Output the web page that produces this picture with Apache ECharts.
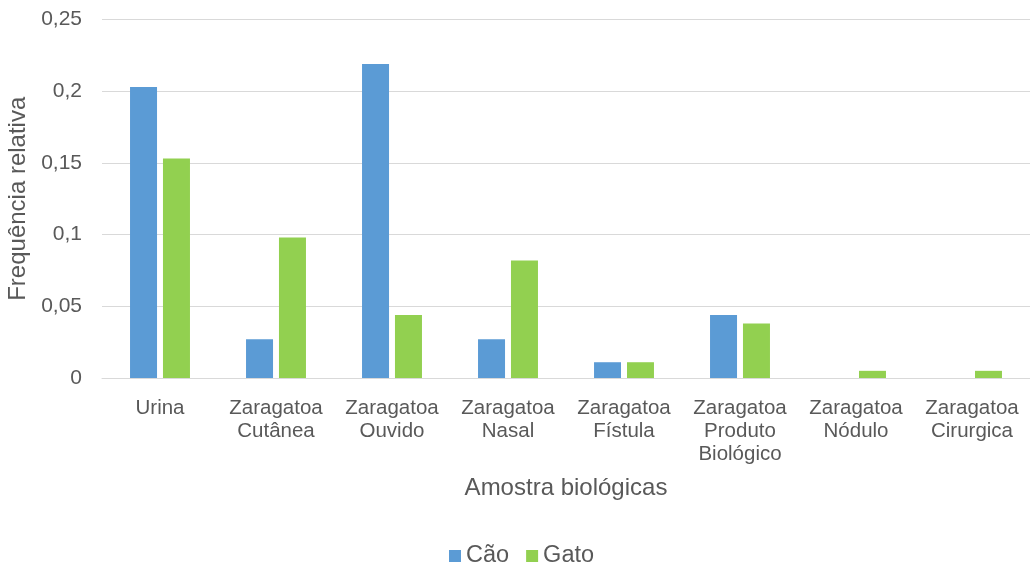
<!DOCTYPE html>
<html>
<head>
<meta charset="utf-8">
<script src="https://cdn.jsdelivr.net/npm/echarts@6/dist/echarts.min.js"></script>
<style>
  html, body { margin: 0; padding: 0; background: #fff; }
  #main { width: 1030px; height: 568px; }
</style>
</head>
<body>
<div id="main"></div>
<script>
var categories = [
    'Urina',
    'Zaragatoa\nCutânea',
    'Zaragatoa\nOuvido',
    'Zaragatoa\nNasal',
    'Zaragatoa\nFístula',
    'Zaragatoa\nProduto\nBiológico',
    'Zaragatoa\nNódulo',
    'Zaragatoa\nCirurgica'
];
var caoValues = [0.203, 0.027, 0.219, 0.027, 0.011, 0.044, 0, 0];
var gatoValues = [0.153, 0.098, 0.044, 0.082, 0.011, 0.038, 0.005, 0.005];
var yTicks = [0, 0.05, 0.1, 0.15, 0.2, 0.25];

var fontName = '"Liberation Sans", Arial, sans-serif';
var textColor = '#595959';

var myChart = echarts.init(document.getElementById('main'));

var option = {
    animation: false,
    textStyle: { fontFamily: fontName, color: textColor },
    grid: {
        left: 102,
        right: 0,
        top: 19.5,
        bottom: 190,
        outerBoundsMode: 'none'
    },
    legend: {
        top: 544,
        left: 449,
        padding: 0,
        itemWidth: 12,
        itemHeight: 12,
        itemGap: 17,
        icon: 'rect',
        textStyle: { fontSize: 23.5, color: textColor, fontFamily: fontName },
        data: ['Cão', 'Gato']
    },
    xAxis: {
        type: 'category',
        data: categories,
        name: 'Amostra biológicas',
        nameLocation: 'middle',
        nameGap: 98,
        nameTextStyle: { fontSize: 24, color: textColor, fontFamily: fontName },
        axisLine: { lineStyle: { color: '#d9d9d9', width: 1 } },
        axisTick: { show: false },
        axisLabel: {
            interval: 0,
            fontSize: 20.5,
            lineHeight: 23,
            color: textColor,
            margin: 19,
            fontFamily: fontName
        }
    },
    yAxis: {
        type: 'value',
        min: 0,
        max: 0.25,
        interval: 0.05,
        name: 'Frequência relativa',
        nameLocation: 'middle',
        nameGap: 70,
        nameTextStyle: { fontSize: 24, color: textColor, fontFamily: fontName },
        axisLine: { show: false },
        axisTick: { show: false },
        splitLine: { lineStyle: { color: '#d9d9d9', width: 1 } },
        axisLabel: {
            fontSize: 21,
            color: textColor,
            margin: 20,
            fontFamily: fontName,
            formatter: function (v) {
                for (var i = 0; i < yTicks.length; i++) {
                    if (Math.abs(yTicks[i] - v) < 1e-9) {
                        return String(yTicks[i]).replace('.', ',');
                    }
                }
                return '';
            }
        }
    },
    series: [
        {
            name: 'Cão',
            type: 'bar',
            data: caoValues,
            barWidth: 27,
            barGap: '22%',
            itemStyle: { color: '#5B9BD5' }
        },
        {
            name: 'Gato',
            type: 'bar',
            data: gatoValues,
            barWidth: 27,
            barGap: '22%',
            itemStyle: { color: '#92D050' }
        }
    ]
};

myChart.setOption(option);
</script>
</body>
</html>
